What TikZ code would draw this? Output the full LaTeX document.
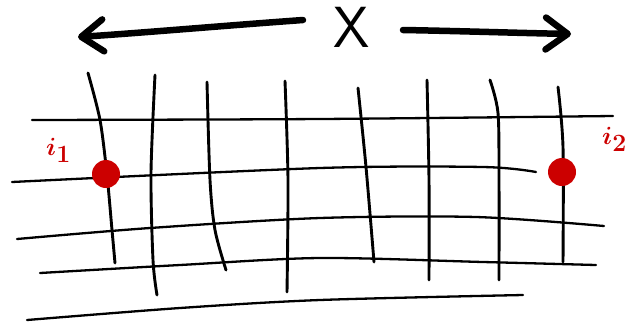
\documentclass[tikz,border=0pt]{standalone}
\usepackage{tikz}
\usetikzlibrary{positioning,arrows.meta}
\definecolor{pred}{HTML}{CC0000}

\begin{document}
\begin{tikzpicture}[x=1pt,y=-1pt,line cap=round,line join=round,
  hl/.style={draw,line width=2.3pt},
  vl/.style={draw,line width=2.9pt},
  arr/.style={draw,line width=6.5pt,-{Straight Barb[round,length=22pt,width=32pt]}},
  dot/.style={circle,fill=pred,inner sep=0pt,minimum size=28pt},
  lbl/.style={text=pred,inner sep=0pt,anchor=base west}]
  \useasboundingbox (0,0) rectangle (636,325);
  % top: X with arrows both ways
  \node[inner sep=0pt,font=\sffamily\fontsize{58}{58}\selectfont] (x) at (352,27) {X};
  \coordinate (lt) at (303,20);
  \coordinate (lh) at (78,37);
  \coordinate (rt) at (403,30);
  \coordinate (rh) at (571,34);
  \draw[arr] (lt) .. controls (220,26) and (140,33) .. (lh);
  \draw[arr] (rt) .. controls (460,31) and (520,33) .. (rh);
  % horizontal lines
  \draw[hl] plot[smooth] coordinates {(32,120) (320,119) (613,116)};
  \draw[hl] plot[smooth] coordinates {(12,182) (320,168) (483,167) (536,172)};
  \draw[hl] plot[smooth] coordinates {(17,239) (150,228) (320,218) (476,217) (604,226)};
  \draw[hl] plot[smooth] coordinates {(40,273) (180,265) (320,258) (483,262) (596,265)};
  \draw[hl] plot[smooth] coordinates {(27,320) (180,308) (320,300) (523,295)};
  % vertical lines
  \draw[vl] plot[smooth] coordinates {(88,73) (100,120) (107,175) (112,230) (115,263)};
  \draw[vl] plot[smooth] coordinates {(155,75) (151,173) (153,260) (157,295)};
  \draw[vl] plot[smooth] coordinates {(207,82) (210,180) (215,230) (226,270)};
  \draw[vl] plot[smooth] coordinates {(285,81) (288,180) (287,292)};
  \draw[vl] plot[smooth] coordinates {(358,88) (366,167) (374,262)};
  \draw[vl] plot[smooth] coordinates {(427,80) (429,180) (429,280)};
  \draw[vl] plot[smooth] coordinates {(490,80) (498,113) (499,180) (499,280)};
  \draw[vl] plot[smooth] coordinates {(558,87) (563,147) (563,262)};
  % the two points
  \node[dot] (d1) at (106,174) {};
  \node[dot] (d2) at (562,172) {};
  \node[lbl,font=\fontsize{34}{34}\selectfont\boldmath] (l1) at (46,155) {$i_1$};
  \node[lbl,font=\fontsize{44}{44}\selectfont\boldmath] (l2) at (602,144) {$i_2$};
\end{tikzpicture}
\end{document}
